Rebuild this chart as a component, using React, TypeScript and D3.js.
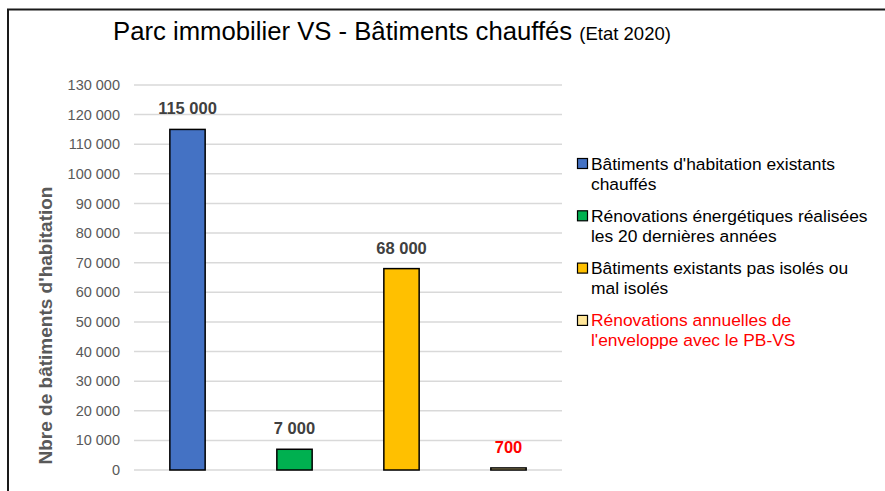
import React, { useRef, useEffect } from "react";
import * as d3 from "d3";

const categories = ["existants", "renoves", "nonIsoles", "annuelles"];
const values = [115000, 7000, 68000, 700];
const valueLabels = ["115 000", "7 000", "68 000", "700"];
const colors = ["#4472C4", "#00B050", "#FFC000", "#FFE699"];
const labelColors = ["#404040", "#404040", "#404040", "#FF0000"];
const legendLines = [
  ["Bâtiments d'habitation existants", "chauffés"],
  ["Rénovations énergétiques réalisées", "les 20 dernières années"],
  ["Bâtiments existants pas isolés ou", "mal isolés"],
  ["Rénovations annuelles de", "l'enveloppe avec le PB-VS"],
];
const legendTextColors = ["#000000", "#000000", "#000000", "#FF0000"];
const yTicks = d3.range(0, 130001, 10000);

const FONT = "'Liberation Sans', Arial, sans-serif";

const App = () => {
  const width = 885;
  const height = 491;
  const margin = { top: 85, bottom: 21, left: 134, right: 323 };
  const plotWidth = width - margin.left - margin.right;
  const plotHeight = height - margin.top - margin.bottom;

  const svgRef = useRef<SVGSVGElement>(null);

  useEffect(() => {
    if (!svgRef.current) return;
    const svg = d3.select(svgRef.current);
    svg.selectAll("*").remove();

    svg
      .append("rect")
      .attr("x", 8)
      .attr("y", 9.5)
      .attr("width", 1000)
      .attr("height", 1000)
      .attr("fill", "white")
      .attr("stroke", "#1a1a1a")
      .attr("stroke-width", 2);

    const title = svg
      .append("text")
      .attr("x", 113)
      .attr("y", 40)
      .attr("font-family", FONT)
      .attr("fill", "#000");
    title.append("tspan").attr("font-size", 25.7).text("Parc immobilier VS - Bâtiments chauffés ");
    title.append("tspan").attr("font-size", 18.5).text("(Etat 2020)");

    const x = d3.scaleBand(categories, [0, plotWidth]).paddingInner(0.67).paddingOuter(0.335);
    const y = d3.scaleLinear([0, 130000], [plotHeight, 0]);

    const plot = svg
      .append("g")
      .attr("transform", `translate(${margin.left}, ${margin.top})`);

    plot
      .append("g")
      .selectAll("line")
      .data(yTicks)
      .join("line")
      .attr("x1", 0)
      .attr("x2", plotWidth)
      .attr("y1", (d) => y(d))
      .attr("y2", (d) => y(d))
      .attr("stroke", "#D9D9D9")
      .attr("stroke-width", 1.5);

    plot
      .append("g")
      .selectAll("text")
      .data(yTicks)
      .join("text")
      .attr("x", -14)
      .attr("y", (d) => y(d))
      .attr("dy", "0.35em")
      .attr("text-anchor", "end")
      .attr("font-family", FONT)
      .attr("font-size", 14.5)
      .attr("fill", "#595959")
      .text((d) => d3.format(",")(d).replace(/,/g, " "));

    plot
      .append("g")
      .selectAll("rect")
      .data(values)
      .join("rect")
      .attr("x", (d, i) => x(categories[i])!)
      .attr("y", (d) => y(d))
      .attr("width", x.bandwidth())
      .attr("height", (d) => plotHeight - y(d))
      .attr("fill", (d, i) => colors[i])
      .attr("stroke", "#000")
      .attr("stroke-width", 1.5);

    plot
      .append("g")
      .selectAll("text")
      .data(values)
      .join("text")
      .attr("x", (d, i) => x(categories[i])! + x.bandwidth() / 2)
      .attr("y", (d) => y(d) - 15)
      .attr("text-anchor", "middle")
      .attr("font-family", FONT)
      .attr("font-weight", "bold")
      .attr("font-size", 16.5)
      .attr("fill", (d, i) => labelColors[i])
      .text((d, i) => valueLabels[i]);

    svg
      .append("text")
      .attr("transform", `translate(51.5, ${margin.top + y(65000) + 48}) rotate(-90)`)
      .attr("text-anchor", "middle")
      .attr("font-family", FONT)
      .attr("font-weight", "bold")
      .attr("font-size", 19)
      .attr("fill", "#595959")
      .text("Nbre de bâtiments d'habitation");

    const legend = svg
      .append("g")
      .selectAll("g")
      .data(legendLines)
      .join("g")
      .attr("transform", (d, i) => `translate(577, ${158 + i * 52.3})`);

    legend
      .append("rect")
      .attr("x", 0.5)
      .attr("y", 0.5)
      .attr("width", 10)
      .attr("height", 10)
      .attr("fill", (d, i) => colors[i])
      .attr("stroke", "#000")
      .attr("stroke-width", 1.2);

    legend
      .append("text")
      .attr("font-family", FONT)
      .attr("font-size", 17.4)
      .attr("fill", (d, i) => legendTextColors[i])
      .selectAll("tspan")
      .data((d) => d)
      .join("tspan")
      .attr("x", 14)
      .attr("y", (d, j) => 11.5 + j * 20)
      .text((d) => d);
  }, []);

  return (
    <svg
      ref={svgRef}
      width={width}
      height={height}
      style={{ position: "absolute", left: 0, top: 0, background: "white" }}
    />
  );
};

export default App;
